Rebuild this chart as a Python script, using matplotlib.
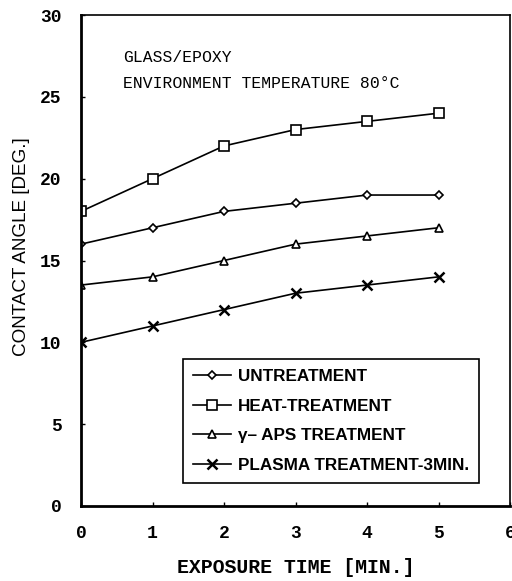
import matplotlib
matplotlib.use("Agg")
import matplotlib.pyplot as plt

time = [0, 1, 2, 3, 4, 5]
untreat = [16, 17, 18, 18.5, 19, 19]
heat = [18, 20, 22, 23, 23.5, 24]
aps = [13.5, 14, 15, 16, 16.5, 17]
plasma = [10, 11, 12, 13, 13.5, 14]
labels = ["UNTREATMENT", "HEAT-TREATMENT", "\u03b3\u2013 APS TREATMENT", "PLASMA TREATMENT-3MIN."]
xticks = [0, 1, 2, 3, 4, 5, 6]
yticks = [0, 5, 10, 15, 20, 25, 30]

fig = plt.figure(figsize=(5.12, 5.81), dpi=100)
ax = fig.add_axes([81/512, 1-506/581, 429/512, 491/581])

kw = dict(color="black", lw=1.2, mfc="white", mec="black", mew=1.2)
ax.plot(time, untreat, marker="D", ms=4.5, label=labels[0], **kw)
ax.plot(time, heat, marker="s", ms=6.5, label=labels[1], **kw)
ax.plot(time, aps, marker="^", ms=5.5, label=labels[2], **kw)
ax.plot(time, plasma, marker="x", ms=7, label=labels[3], color="black", lw=1.2, mew=1.8)

ax.set_xlim(0, 6)
ax.set_ylim(0, 30)
ax.set_xticks(xticks)
ax.set_yticks(yticks)
ax.tick_params(direction="in", length=3, width=1)
ax.tick_params(axis="x", pad=14)
ax.tick_params(axis="y", pad=14)
for lab in ax.get_xticklabels() + ax.get_yticklabels():
    lab.set_fontfamily("Liberation Mono")
    lab.set_fontweight("bold")
    lab.set_fontsize(13)

ax.spines["left"].set_linewidth(2)
ax.spines["bottom"].set_linewidth(2)
ax.spines["top"].set_linewidth(1.2)
ax.spines["right"].set_linewidth(1.2)

ax.set_xlabel("EXPOSURE TIME [MIN.]", fontfamily="Liberation Mono", fontweight="bold",
              fontsize=14.3, labelpad=11)
ax.set_ylabel("CONTACT ANGLE [DEG.]", fontfamily="Liberation Sans", fontsize=13.6)
ax.yaxis.set_label_coords(-51/429, (506-247)/491)

ax.text(0.59, 27.4, "GLASS/EPOXY", fontfamily="Liberation Mono", fontsize=11.8, va="center")
ax.text(0.59, 25.8, "ENVIRONMENT TEMPERATURE 80\u00b0C", fontfamily="Liberation Mono",
        fontsize=11.8, va="center")

leg = ax.legend(loc="lower right", bbox_to_anchor=(0.928, 0.047), borderaxespad=0,
                frameon=True, fancybox=False,
                edgecolor="black", framealpha=1, handlelength=2.2, handletextpad=0.4,
                labelspacing=0.85, borderpad=0.6, prop=dict(family="Liberation Sans", weight="bold", size=12.3))
leg.get_frame().set_linewidth(1.2)

fig.savefig("out.png", dpi=100)
